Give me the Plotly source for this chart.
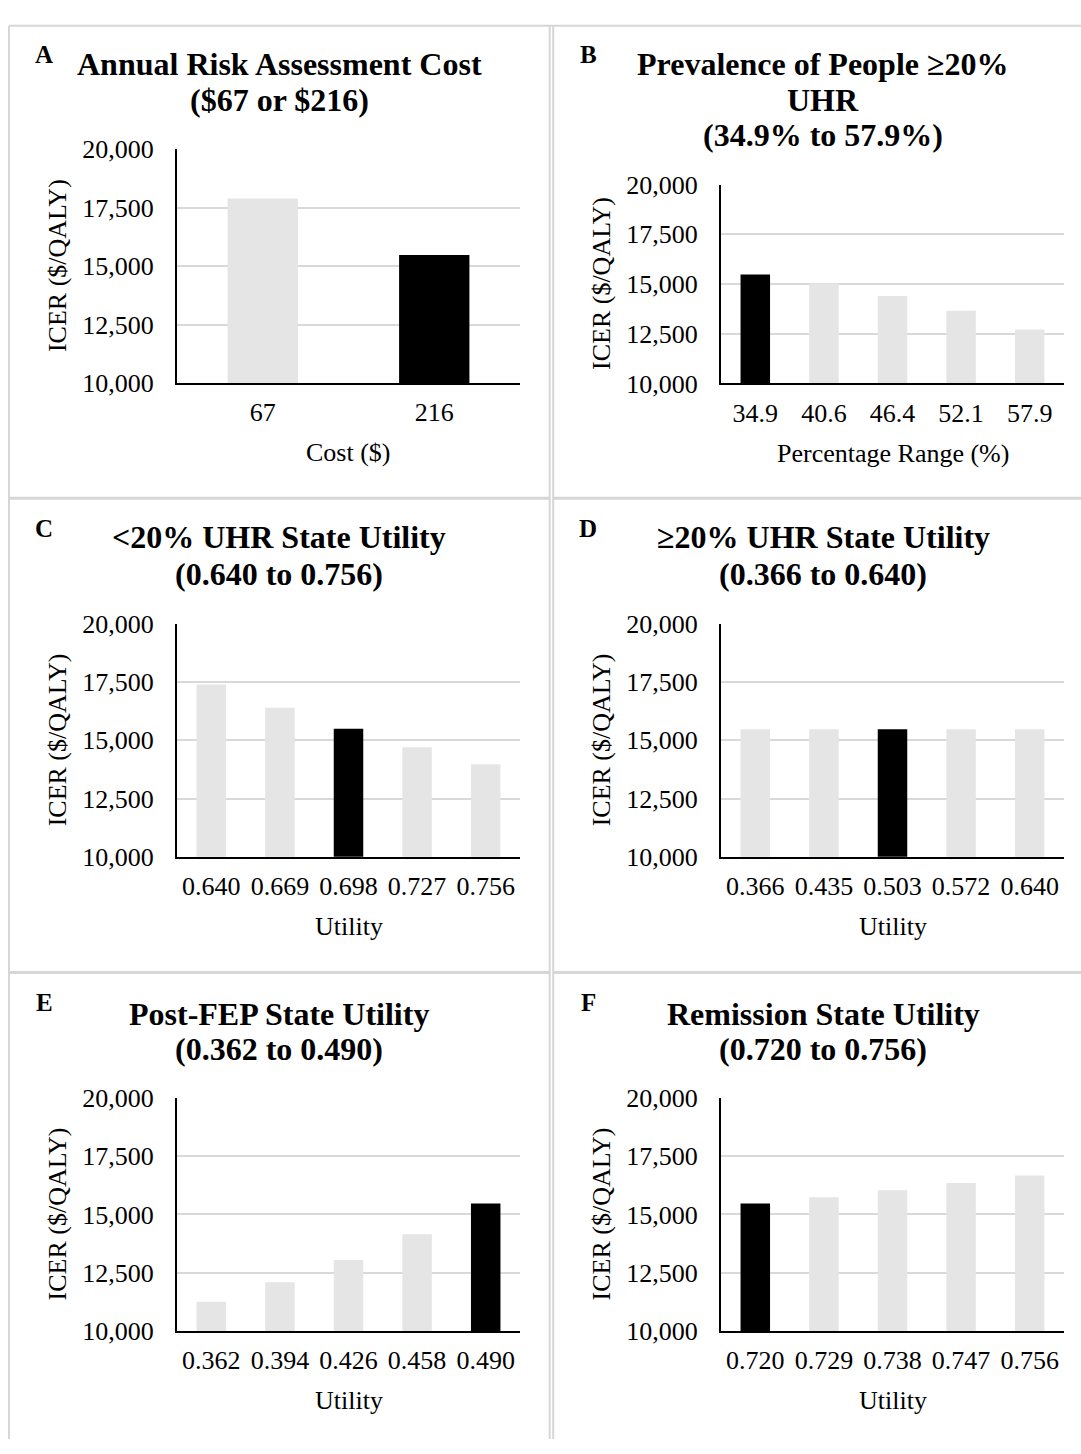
import plotly.graph_objects as go

# ---------------- data ----------------
a_categories = ["67", "216"]
a_icer = [17880, 15470]
a_base_index = 1

b_categories = ["34.9", "40.6", "46.4", "52.1", "57.9"]
b_icer = [15480, 15020, 14400, 13660, 12710]
b_base_index = 0

c_categories = ["0.640", "0.669", "0.698", "0.727", "0.756"]
c_icer = [17400, 16400, 15500, 14700, 13970]
c_base_index = 2

d_categories = ["0.366", "0.435", "0.503", "0.572", "0.640"]
d_icer = [15480, 15480, 15480, 15480, 15480]
d_base_index = 2

e_categories = ["0.362", "0.394", "0.426", "0.458", "0.490"]
e_icer = [11260, 12100, 13050, 14150, 15470]
e_base_index = 4

f_categories = ["0.720", "0.729", "0.738", "0.747", "0.756"]
f_icer = [15470, 15740, 16030, 16350, 16670]
f_base_index = 0

y_ticks = [10000, 12500, 15000, 17500, 20000]
y_title = "ICER ($/QALY)"

panel_letters = ["A", "B", "C", "D", "E", "F"]
panel_titles = [
    ["Annual Risk Assessment Cost", "($67 or $216)"],
    ["Prevalence of People ≥20%", "UHR", "(34.9% to 57.9%)"],
    ["<20% UHR State Utility", "(0.640 to 0.756)"],
    ["≥20% UHR State Utility", "(0.366 to 0.640)"],
    ["Post-FEP State Utility", "(0.362 to 0.490)"],
    ["Remission State Utility", "(0.720 to 0.756)"],
]
x_titles = ["Cost ($)", "Percentage Range (%)", "Utility", "Utility", "Utility", "Utility"]

series = [
    (a_categories, a_icer, a_base_index),
    (b_categories, b_icer, b_base_index),
    (c_categories, c_icer, c_base_index),
    (d_categories, d_icer, d_base_index),
    (e_categories, e_icer, e_base_index),
    (f_categories, f_icer, f_base_index),
]

# ---------------- layout geometry (pixels) ----------------
W, H = 1081, 1454
FONT = "Liberation Serif, Times New Roman, serif"
LIGHT = "#e5e5e5"
DARK = "#000000"
GRID = "#d9d9d9"
BORDER = "#d6d6d6"

col_plot_x = [(177, 520), (721, 1064)]
col_shift = [0, 544]
plot_y = [(137.7, 376.7), (174, 377), (622.3, 860), (622.3, 860), (1105.7, 1344), (1105.7, 1344)]
title_y = [
    [51, 88],
    [51, 87.5, 123],
    [534, 571],
    [534, 571],
    [1020, 1056],
    [1020, 1056],
]
letter_y = [41.5, 41.5, 525, 525, 1009, 1009]
bar_widths = [0.41, 0.43, 0.43, 0.43, 0.43, 0.43]


def fx(px):
    return px / W


def fy(py):
    return 1 - py / H


fig = go.Figure()
annotations = []
shapes = []

for i, (cats, vals, base) in enumerate(series):
    col = i % 2
    n = i + 1
    xa = "x" if n == 1 else f"x{n}"
    ya = "y" if n == 1 else f"y{n}"
    colors = [DARK if k == base else LIGHT for k in range(len(cats))]
    fig.add_trace(go.Bar(
        x=cats, y=vals, xaxis=xa, yaxis=ya,
        marker=dict(color=colors, line=dict(width=0)),
        width=bar_widths[i], showlegend=False,
    ))
    x0, x1 = col_plot_x[col]
    y0, y1 = plot_y[i]
    xkey = "xaxis" if n == 1 else f"xaxis{n}"
    ykey = "yaxis" if n == 1 else f"yaxis{n}"
    fig.update_layout(**{
        xkey: dict(
            domain=[fx(x0), fx(x1)], anchor=ya, type="category",
            showline=True, linecolor="black", linewidth=2,
            showgrid=False, zeroline=False,
            ticks="outside", ticklen=5, tickcolor="rgba(0,0,0,0)",
            tickfont=dict(family=FONT, size=26, color="black"),
            fixedrange=True,
        ),
        ykey: dict(
            domain=[fy(y1), fy(y0)], anchor=xa,
            range=[10000, 20000], tickvals=y_ticks, tickformat=",",
            showline=True, linecolor="black", linewidth=2,
            showgrid=True, gridcolor=GRID, gridwidth=2, zeroline=False,
            ticks="outside", ticklen=16, tickcolor="rgba(0,0,0,0)",
            tickfont=dict(family=FONT, size=26, color="black"),
            fixedrange=True,
        ),
    })
    annotations.append(dict(
        text=y_title, x=fx(57 + col_shift[col]), y=fy((y0 + y1) / 2),
        xref="paper", yref="paper", showarrow=False, textangle=-90,
        xanchor="center", yanchor="middle",
        font=dict(family=FONT, size=26, color="black"),
    ))
    annotations.append(dict(
        text=x_titles[i], x=fx((x0 + x1) / 2), y=fy(y1 + 71),
        xref="paper", yref="paper", showarrow=False,
        xanchor="center", yanchor="middle",
        font=dict(family=FONT, size=26, color="black"),
    ))
    for line_text, ty in zip(panel_titles[i], title_y[i]):
        annotations.append(dict(
            text=f"<b>{line_text}</b>", x=fx(279 + col_shift[col]), y=fy(ty),
            xref="paper", yref="paper", showarrow=False,
            xanchor="center", yanchor="middle",
            font=dict(family=FONT, size=32, color="black"),
        ))
    annotations.append(dict(
        text=f"<b>{panel_letters[i]}</b>", x=fx(44 + col_shift[col]), y=fy(letter_y[i]),
        xref="paper", yref="paper", showarrow=False,
        xanchor="center", yanchor="middle",
        font=dict(family=FONT, size=25, color="black"),
    ))


def line(xa0, ya0, xa1, ya1, w, color=BORDER):
    shapes.append(dict(type="line", xref="paper", yref="paper",
                       x0=fx(xa0), y0=fy(ya0), x1=fx(xa1), y1=fy(ya1),
                       line=dict(color=color, width=w)))


# table-like cell borders
line(9, 12, 1081, 12, 2)
line(9, 12, 9, 1454, 2)
line(549.7, 12, 549.7, 1454, 2)
line(553.2, 12, 553.2, 1454, 2)
for yy in [494, 978]:
    line(9, yy, 549.7, yy, 3)
    line(553.2, yy, 1081, yy, 3)

fig.update_layout(
    width=W, height=H,
    margin=dict(l=0, r=0, t=0, b=0),
    paper_bgcolor="white", plot_bgcolor="white",
    annotations=annotations, shapes=shapes,
    bargap=0.58,
    font=dict(family=FONT, color="black"),
)

fig.write_html(
    "out.html",
    config={"displayModeBar": False},
    post_script=(
        "document.body.style.margin='0px';"
        "document.body.style.padding='0px';"
        "document.body.style.overflow='hidden';"
        "var gd=document.getElementById('{plot_id}');"
        "gd.style.position='fixed';gd.style.top='0px';gd.style.left='0px';"
    ),
)
